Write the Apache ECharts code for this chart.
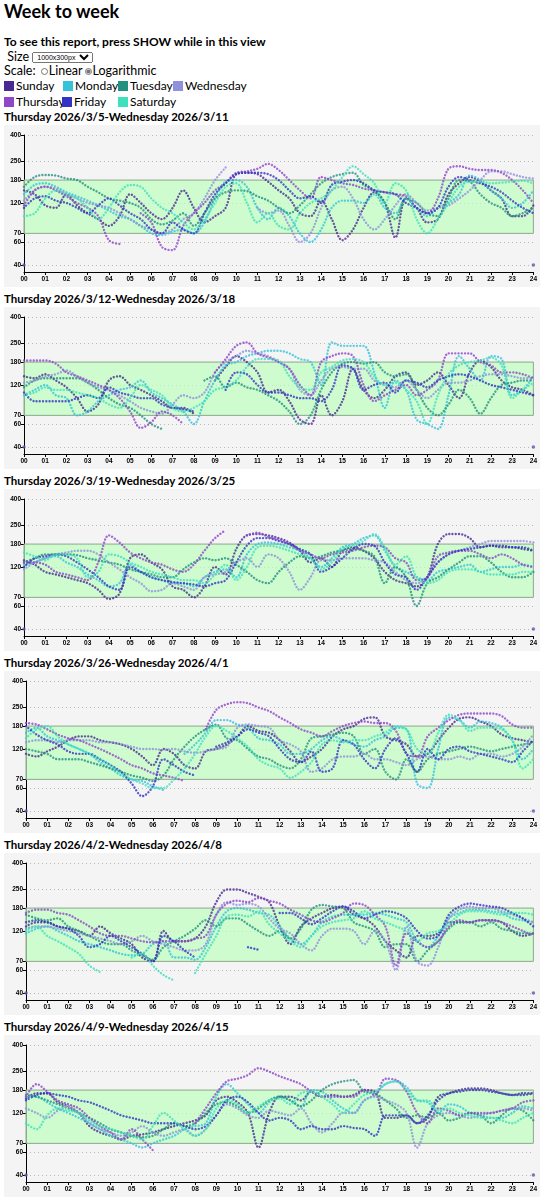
<!DOCTYPE html>
<html>

<head>
    <meta charset="utf-8">
    <script src="https://cdn.jsdelivr.net/npm/echarts@6/dist/echarts.min.js"></script>
    <style>
        body {
            margin: 0px;
            padding: 0px 0px 0px 4px;
            font-family: Lato, 'Noto Sans', sans-serif;
            font-size: 13px;
            color: #000;
        }

        h1 {
            margin: 0px 0px 12px 0px;
            font-size: 18px;
            line-height: 22px;
            height: 22px;
        }

        .note {
            font-weight: bold;
            font-size: 12px;
            line-height: 16px;
            height: 16px;
        }

        .row {
            height: 14px;
            line-height: 14px;
            font-size: 12.5px;
        }

        .row select {
            font-size: 7px;
            height: 11px;
            padding: 0px;
            vertical-align: 1px;
        }

        .row input {
            width: 7px;
            height: 7px;
            margin: 0px 1px 0px 2px;
            vertical-align: 0px;
            accent-color: #777;
        }

        #legend {
            position: relative;
            height: 31px;
        }

        .lg {
            position: absolute;
            font-size: 12px;
            white-space: nowrap;
        }

        .lg i {
            display: inline-block;
            width: 10px;
            height: 10px;
            margin-right: 2px;
            vertical-align: -1px;
        }

        .ptitle {
            font-weight: bold;
            font-size: 11.5px;
            height: 16px;
            line-height: 16px;
        }

        .chart {
            width: 536px;
            height: 162px;
            background: #f4f4f4;
            margin-bottom: 4px;
        }
    </style>
</head>

<body>
    <h1>Week to week</h1>
    <div class="note">To see this report, press SHOW while in this view</div>
    <div class="row">&nbsp;Size <select><option>1000x300px</option></select></div>
    <div class="row">Scale: <input type="radio" name="sc">Linear<input type="radio" name="sc" checked>Logarithmic</div>
    <div id="legend"></div>
    <div id="panels"></div>

    <script>
        // half hour steps of the day
        var HOURS = [0, 0.5, 1, 1.5, 2, 2.5, 3, 3.5, 4, 4.5, 5, 5.5, 6, 6.5, 7, 7.5, 8, 8.5, 9, 9.5, 10, 10.5, 11, 11.5,
            12, 12.5, 13, 13.5, 14, 14.5, 15, 15.5, 16, 16.5, 17, 17.5, 18, 18.5, 19, 19.5, 20, 20.5, 21, 21.5, 22, 22.5, 23, 23.5, 24];
        var XLABELS = ['00', '01', '02', '03', '04', '05', '06', '07', '08', '09', '10', '11', '12',
            '13', '14', '15', '16', '17', '18', '19', '20', '21', '22', '23', '24'];
        var YTICKS = [40, 60, 70, 120, 180, 250, 400];
        var DAYS = ['Sunday', 'Monday', 'Tuesday', 'Wednesday', 'Thursday', 'Friday', 'Saturday'];
        var COLORS = ['#4a2a92', '#35c3dc', '#239180', '#9090dc', '#8f46c8', '#3434c4', '#3ee0bd'];
        var TITLES = [
            'Thursday 2026/3/5-Wednesday 2026/3/11',
            'Thursday 2026/3/12-Wednesday 2026/3/18',
            'Thursday 2026/3/19-Wednesday 2026/3/25',
            'Thursday 2026/3/26-Wednesday 2026/4/1',
            'Thursday 2026/4/2-Wednesday 2026/4/8',
            'Thursday 2026/4/9-Wednesday 2026/4/15'
        ];

        // week 1
        var sun1 = [150, 140, 115, 110, 140, 115, 100, 90, 80, 95, 140, 120, 100, 90, 110, 150, 110, 85, 95, 110, 200, 205, 200, 175,
            150, 130, 100, 95, 125, 90, 62, 75, 110, 145, 120, 65, 130, 110, 85, 90, 140, 170, 190, 175, 150, 130, 95, 95, 115];
        var mon1 = [140, 165, 170, 160, 145, 135, 125, 115, 105, 95, 90, 80, 70, 68, 72, 75, 70, 85, 130, 175, 180, 160, 110, 90,
            110, 95, 70, 60, 75, 110, 125, 125, 120, 140, 110, 100, 130, 110, 95, 110, 120, 140, 195, 180, 150, 130, 110, 120, 150];
        var tue1 = [160, 190, 197, 195, 185, 180, 160, 145, 130, 125, 120, 110, 90, 82, 88, 100, 80, 100, 130, 145, 150, 148, 135, 125,
            110, 100, 115, 140, 170, 190, 200, 205, 165, 150, 120, 90, 130, 120, 100, 95, 130, 180, 175, 140, 120, 110, 95, 100, 110];
        var wed1 = [125, 150, 160, 155, 140, 130, 120, 115, 110, 100, 90, 80, 75, 70, 75, 90, 100, 130, 180, 225, null, null, 110, 100,
            105, 80, 60, 70, 110, 150, 160, 130, 90, 75, 90, 115, 140, 120, 105, 110, 115, 130, 150, 180, 210, 210, 200, 190, 185];
        var thu1 = [115, 150, 160, 150, 135, 120, 110, 95, 62, 58, null, 100, 85, 55, 52, 80, 100, 120, 150, 170, 205, 210, 220, 240,
            215, 180, 150, 130, 190, 180, 170, 165, 155, 150, 145, 140, 135, 110, 100, 130, 220, 230, 220, 215, 215, 205, 180, 150, 120];
        var fri1 = [110, 130, 135, 125, 120, 110, 100, 115, 130, 115, 100, 90, 75, 70, 85, 75, 70, 100, 140, 170, 200, 205, 205, 200,
            180, 150, 130, 135, 120, 165, 175, 180, 170, 150, 145, 140, 120, 110, 100, 110, 160, 190, 180, 170, 160, 145, 125, 110, 100];
        var sat1 = [95, 100, 130, 150, 140, 130, 110, 90, 110, 145, 165, 160, 130, 110, 100, 85, 75, 90, 120, 160, 170, 120, 85, 100,
            80, 75, 100, 120, 130, 150, 190, 230, 200, 170, 120, 170, 150, 90, 70, 90, 120, 160, 175, 175, 170, 172, 175, 178, 170];

        // week 2
        var sun2 = [140, 135, 145, 130, 115, 95, 75, 85, 130, 140, 120, 110, 100, 90, 80, 80, 72, null, 130, 165, 200, 180, 150, 105,
            110, 90, 65, 60, 100, 70, 90, 160, 110, 95, 110, 140, 150, 120, 130, 150, 120, 95, 150, 185, 165, 130, 115, 110, 100];
        var mon2 = [100, 110, 120, 100, 95, 70, 75, 90, 100, 110, 115, 130, 105, 95, 85, 75, 60, 90, 130, 170, 180, 200, 210, 220,
            220, 210, 190, 180, 120, 255, 240, 240, 240, 150, 80, 130, 110, 65, 60, 55, 100, 200, 160, 130, 200, 190, 100, 110, 140];
        var tue2 = [115, 130, 135, 135, 135, 135, 125, 110, 95, 85, 80, 70, 60, 55, null, null, null, 130, 140, 115, 125, 115, 110, 100,
            90, 75, 60, 70, 110, 150, 175, 180, 175, 180, 150, 140, 145, 110, 80, 70, 85, 110, 95, 72, 95, 120, 125, 130, 130];
        var wed2 = [125, 130, 140, 145, 155, 140, 125, 115, 110, 100, 90, 80, 75, 72, 85, 100, 95, 105, 150, 180, 200, 220, 210, 200,
            180, 160, 110, 100, 130, 160, 165, 160, 160, 130, 120, 115, 130, 110, 95, 110, 125, 125, 130, 140, 145, 145, 140, 135, 135];
        var thu2 = [185, 185, 185, 175, 150, 140, 130, 120, 110, 95, 75, 56, 62, 75, 70, 60, null, null, 150, 190, 240, 255, 210, 195,
            180, 160, 120, 100, 180, 200, 210, 200, 120, 90, 100, 110, 120, 100, 110, 130, 210, 210, 210, 180, 170, 150, 150, 145, 135];
        var fri2 = [105, 90, 90, 90, 90, 95, 100, 95, 115, 105, 100, 95, 95, 85, 80, 78, 75, null, null, 110, 150, 145, 120, 105,
            105, 100, 95, 95, 90, 110, 170, 160, 110, 120, 125, 105, 130, 125, 115, 130, 140, 145, 140, 130, 120, 115, 110, 105, 100];
        var sat2 = [100, 105, 115, 110, 110, 105, 100, 95, 85, 80, 95, 120, 110, 100, 80, 75, 80, 90, 110, 115, 130, 165, 190, 190,
            185, 140, 115, 110, 150, 165, 185, 190, 180, 140, 120, 125, 110, 90, 60, 100, 145, 170, 180, 185, 195, 170, 95, 110, 125];

        // week 3
        var sun3 = [135, 125, 110, 105, 100, 95, 90, 80, 68, 75, 140, 150, 130, 115, 85, 80, 70, 85, 120, 105, 165, 210, 215, 210,
            200, 185, 160, 130, 140, 120, 160, 170, 160, 140, 110, 95, 90, 85, 100, 180, 215, 215, 200, 170, 175, 170, 170, 165, 160];
        var mon3 = [125, 130, 140, 145, 130, 120, 105, 95, 85, 90, 125, 110, 100, 95, 90, 90, 85, 100, 110, 115, 100, 150, 180, 185,
            180, 170, 160, 140, 120, 140, 170, 180, 200, 210, 160, 120, 110, 100, 95, 110, 115, 120, 125, 110, 115, 120, 120, 125, 120];
        var tue3 = [130, 140, 150, 150, 150, 148, 140, 135, 130, 125, 115, 110, 105, 100, 100, 115, 130, 140, 135, 140, 125, 110, 95, 90,
            110, 130, 145, 140, 145, 155, 160, 165, 160, 145, 90, 120, 100, 60, 90, 100, 115, 130, 145, 145, 130, 110, 100, 100, 110];
        var wed3 = [115, 130, 140, 150, 155, 160, 160, 150, 130, 115, 100, 90, 78, 80, 90, 85, 80, 100, 105, 110, 130, 140, 120, 150,
            140, 110, 80, 100, 135, 135, 140, 140, 140, 135, 130, 110, 95, 90, 100, 130, 150, 160, 170, 180, 190, 190, 190, 190, 185];
        var thu3 = [130, 130, 125, 110, 105, 100, 95, 130, 210, 185, 155, 140, 130, 125, 115, 110, 125, 160, 200, 230, null, 210, 220, 205,
            195, 180, 160, 150, 140, 150, 155, 160, 170, 175, 170, 140, 130, 95, 100, 145, 155, 160, 160, 150, 140, 150, 140, 125, 120];
        var fri3 = [120, 140, 145, 150, 145, 130, 115, 100, 85, 80, 120, 110, 100, 95, 92, 90, 88, 85, 90, 95, 130, 175, 200, 200,
            190, 180, 165, 150, 110, 120, 140, 165, 180, 175, 130, 105, 100, 80, 100, 130, 150, 160, 165, 170, 175, 175, 170, 170, 160];
        var sat3 = [155, 145, 135, 150, 150, 140, 100, 110, 150, 145, 130, 120, 110, 105, 100, 95, 95, 90, 105, 125, 95, 120, 170, 175,
            170, 160, 150, 140, 115, 130, 165, 175, 190, 215, 170, 125, 145, 100, 90, 95, 110, 115, 115, 110, 105, 105, 105, 110, 110];

        // week 4
        var sun4 = [110, 105, 115, 125, 140, 150, 150, 140, 135, 130, 120, 105, 90, 120, 110, 90, 85, 115, 120, 130, 150, 180, 165, 160,
            140, 115, 95, 105, 120, 150, 170, 180, 205, 210, 150, 140, 130, 105, 110, 140, 175, 205, 210, 195, 180, 155, 145, 140, 135];
        var mon4 = [160, 175, 150, 140, 130, 120, 110, 95, 85, 75, 70, 68, 62, 58, null, 110, 130, 160, 200, 200, 185, 175, 145, 140,
            130, 110, 110, 120, 140, 150, 140, 130, 125, 140, 150, 175, 170, 65, 60, 120, 210, 200, 175, 195, 190, 175, 140, 100, 120];
        var tue4 = [120, 115, 110, 100, 100, 100, 95, 90, 85, 80, 75, 72, 68, 75, 100, 125, 150, 170, 185, 145, 140, 120, 105, 100,
            90, 85, 100, 145, 150, 155, 160, 150, 110, 120, 80, 70, 100, 80, 100, 110, 115, 120, 125, 120, 115, 120, 125, 130, 135];
        var wed4 = [135, 140, 140, 135, 140, 140, 140, 135, 135, 130, 125, 120, 120, 118, 120, 115, 112, 115, 120, 125, 175, 185, 180, 175,
            140, 130, 115, 80, 85, 100, 105, 105, 110, 100, 100, 95, 90, 100, 105, 100, 100, 105, 100, 110, 110, 105, 110, 125, 155];
        var thu4 = [190, 185, 170, 155, 145, 140, 130, 120, 110, 100, 90, 85, 78, 75, 72, 68, null, 170, 240, 265, 275, 270, 250, 235,
            210, 190, 170, 160, 150, 165, 180, 190, 195, 190, 190, 165, 110, 105, 150, 175, 200, 220, 225, 225, 225, 215, 185, 175, 175];
        var fri4 = [180, 155, 140, 130, 115, 110, 110, 100, 90, 80, 65, 52, 62, 100, 90, 80, 75, null, 125, 135, 150, 170, 160, 150,
            120, 100, 95, 115, 80, 85, 140, 130, 100, 85, 120, 145, 110, 80, 120, 100, 120, 125, 115, 110, 105, 100, 95, 115, 140];
        var sat4 = [145, 170, 180, 150, 130, 120, 110, 100, 90, 78, 70, 65, 60, 60, 70, 85, 110, 150, 180, 165, 145, 125, 100, 90,
            85, 72, 80, 95, 130, 140, 135, 140, 140, 150, 160, 180, 170, 120, 110, 160, 220, 200, 165, 175, 175, 170, 140, 85, 100];

        // week 5
        var sun5 = [130, 140, 140, 130, 125, 120, 110, 130, 115, 105, 95, 75, 70, 120, 100, 100, 105, 130, 200, 250, 250, 235, 220, 200,
            130, 95, 130, 150, 165, 180, 185, 160, 150, 130, 100, 85, 75, 110, 110, 115, 140, 140, 140, 145, 145, 140, 120, 110, 115];
        var mon5 = [115, 125, 130, 120, 110, 100, 95, 90, 85, 80, 78, 80, 95, 100, 75, 75, 72, 90, 130, 170, 180, 175, 165, 160,
            130, 105, 95, 110, 140, 155, 160, 160, 160, 165, 160, 150, 140, 100, 90, 110, 150, 165, 175, 175, 170, 165, 150, 145, 140];
        var tue5 = [160, 150, 145, 150, 130, 120, 110, 100, 95, 95, 85, 78, 72, 90, 100, 110, 125, 145, 130, 150, 150, 135, 120, 110,
            120, 105, 125, 175, 190, 185, 180, 140, 130, 120, 90, 95, 95, 70, 85, 100, 125, 140, 140, 130, 140, 125, 120, 115, 115];
        var wed5 = [125, 130, 130, 125, 120, 115, 110, 105, 100, 95, 100, 110, 100, 95, 90, 85, 85, 95, 160, 200, 190, 195, 185, 150,
            125, 115, 95, 85, 110, 125, 125, 120, 95, 120, 100, 60, 130, 70, 65, 90, 150, 175, 185, 180, 180, 170, 160, 150, 140];
        var thu5 = [165, 175, 175, 165, 160, 145, 130, 115, 110, 110, 105, 100, 98, 100, 100, 100, 105, 110, 160, 195, 205, 200, 215, 205,
            195, 175, 160, 145, 140, 150, 165, 195, 190, 160, 130, 65, 115, 100, 90, 100, 130, 145, 140, 145, 145, 140, 130, 120, 110];
        var fri5 = [140, 145, 140, 130, 125, 110, 90, 95, 110, 100, 90, 80, 70, 110, 100, 85, 75, null, null, null, null, 90, 86, null,
            165, 165, 150, 135, 150, 170, 185, 170, 150, 160, 170, 165, 150, 120, 105, 110, 160, 185, 195, 190, 185, 180, 165, 150, 130];
        var sat5 = [120, 130, 110, 100, 90, 80, 65, 58, null, null, 75, 80, 65, 55, 50, null, 57, 80, 110, 155, 160, 155, 170, 135,
            115, 100, 90, 110, 130, 140, 145, 150, 170, 150, 140, 130, 120, 100, 115, 120, 135, 160, 170, 170, 165, 160, 165, 165, 160];

        // week 6
        var sun6 = [155, 170, 170, 145, 135, 120, 95, 85, 80, 75, 80, 82, 85, 90, 95, 100, 105, 115, 150, 160, 145, 120, 65, 120,
            160, 160, 150, 175, 160, 165, 160, 165, 180, 175, 110, 110, 115, 100, 110, 160, 170, 180, 185, 185, 180, 170, 165, 170, 170];
        var mon6 = [160, 160, 145, 130, 120, 110, 100, 90, 80, 75, 70, 65, 70, 75, 80, 90, 95, 100, 160, 200, 170, 140, 120, 145,
            160, 150, 135, 180, 175, 150, 130, 120, 150, 165, 200, 210, 190, 150, 145, 120, 140, 135, 120, 115, 110, 110, 120, 135, 130];
        var tue6 = [165, 160, 150, 140, 130, 120, 110, 100, 90, 85, 80, 78, 80, 90, 100, 95, 100, 120, 140, 145, 135, 120, 130, 150,
            160, 150, 135, 150, 180, 200, 210, 215, 175, 170, 150, 130, 110, 115, 110, 120, 105, 110, 120, 115, 100, 115, 130, 125, 105];
        var wed6 = [130, 120, 110, 125, 135, 120, 100, 90, 85, 80, 85, 95, 85, 80, 85, 90, 80, 90, 115, 140, 130, 115, 110, 125,
            120, 115, 130, 100, 85, 100, 120, 120, 150, 160, 150, 140, 120, 65, 100, 115, 120, 115, 110, 115, 120, 125, 130, 130, 125];
        var thu6 = [160, 200, 175, 150, 140, 130, 110, 95, 85, 75, 90, 75, 62, null, null, null, 100, 130, 170, 210, 220, 235, 265, 250,
            230, 215, 200, 175, 160, 160, 160, 160, 180, 165, 220, 215, 175, 120, 100, 130, 125, 115, 120, 120, 120, 125, 130, 145, 150];
        var fri6 = [150, 165, 170, 165, 160, 150, 145, 135, 125, 115, 110, 105, 100, 100, 100, 95, 90, 95, 115, 150, 160, 145, 120, 105,
            110, 105, 90, 95, 90, 90, 95, 92, 90, 80, 115, 115, 115, 100, 115, 150, 170, 175, 180, 180, 175, 170, 165, 165, 170];
        var sat6 = [100, 90, 115, 130, 125, 120, 105, 95, 90, 85, 80, 75, 95, 120, 105, 90, 80, 90, 130, 150, 140, 120, 135, 150,
            155, 140, 170, 175, 160, 140, 120, 140, 165, 175, 200, 210, 180, 150, 150, 125, 130, 120, 115, 110, 110, 105, 100, 110, 120];

        var weeks = [
            [sun1, mon1, tue1, wed1, thu1, fri1, sat1],
            [sun2, mon2, tue2, wed2, thu2, fri2, sat2],
            [sun3, mon3, tue3, wed3, thu3, fri3, sat3],
            [sun4, mon4, tue4, wed4, thu4, fri4, sat4],
            [sun5, mon5, tue5, wed5, thu5, fri5, sat5],
            [sun6, mon6, tue6, wed6, thu6, fri6, sat6]
        ];
        var gridLeft = [20, 20, 20, 22, 22, 22];

        // legend squares
        var legendPos = [[4, 0], [63, 0], [118, 0], [173, 0], [4, 16], [62, 16], [118, 16]];
        var legend = document.getElementById('legend');
        DAYS.forEach(function (d, i) {
            var s = document.createElement('span');
            s.className = 'lg';
            s.style.left = (legendPos[i][0] - 4) + 'px';
            s.style.top = legendPos[i][1] + 'px';
            s.innerHTML = '<i style="background:' + COLORS[i] + '"></i>' + d;
            legend.appendChild(s);
        });

        var holder = document.getElementById('panels');
        weeks.forEach(function (week, w) {
            var t = document.createElement('div');
            t.className = 'ptitle';
            t.textContent = TITLES[w];
            holder.appendChild(t);
            var c = document.createElement('div');
            c.className = 'chart';
            holder.appendChild(c);

            var chart = echarts.init(c);
            var series = [{
                // band 70-180 and the two end markers
                type: 'scatter',
                z: 1,
                silent: true,
                symbolSize: 3.5,
                itemStyle: { color: '#5858b0' },
                data: [[0, 40], [24, 40]],
                markArea: {
                    silent: true,
                    itemStyle: { color: 'rgba(190,255,190,0.7)', borderColor: '#8fa88f', borderWidth: 1 },
                    data: [[{ yAxis: 70 }, { yAxis: 180 }]]
                }
            }];
            week.forEach(function (vals, i) {
                series.push({
                    name: DAYS[i],
                    type: 'line',
                    z: 2,
                    smooth: 0.35,
                    showSymbol: false,
                    connectNulls: false,
                    silent: true,
                    data: HOURS.map(function (h, k) { return [h, vals[k]]; }),
                    lineStyle: { color: COLORS[i], width: 2.4, type: [0.01, 3.2], cap: 'round', opacity: 0.8 }
                });
            });

            chart.setOption({
                animation: false,
                grid: { left: gridLeft[w], right: 6, top: 10, bottom: 15 },
                xAxis: {
                    type: 'value',
                    min: 0,
                    max: 24,
                    interval: 1,
                    axisLine: { lineStyle: { color: '#000' } },
                    axisTick: { length: 3, lineStyle: { color: '#000' } },
                    splitLine: { show: false },
                    axisLabel: {
                        formatter: function (v) { return XLABELS[v]; },
                        fontSize: 6.5,
                        fontWeight: 'bold',
                        color: '#000',
                        margin: 4
                    }
                },
                yAxis: {
                    type: 'log',
                    logBase: 10,
                    min: 35.3,
                    max: 400,
                    axisLine: { show: true, lineStyle: { color: '#000' } },
                    axisTick: { show: true, length: 3, customValues: YTICKS, lineStyle: { color: '#000' } },
                    axisLabel: {
                        customValues: YTICKS,
                        fontSize: 6.5,
                        fontWeight: 'bold',
                        color: '#000',
                        margin: 3
                    },
                    splitLine: { show: true, lineStyle: { type: [1, 3], color: '#b8b8b8' } }
                },
                series: series
            });
        });
    </script>
</body>

</html>
